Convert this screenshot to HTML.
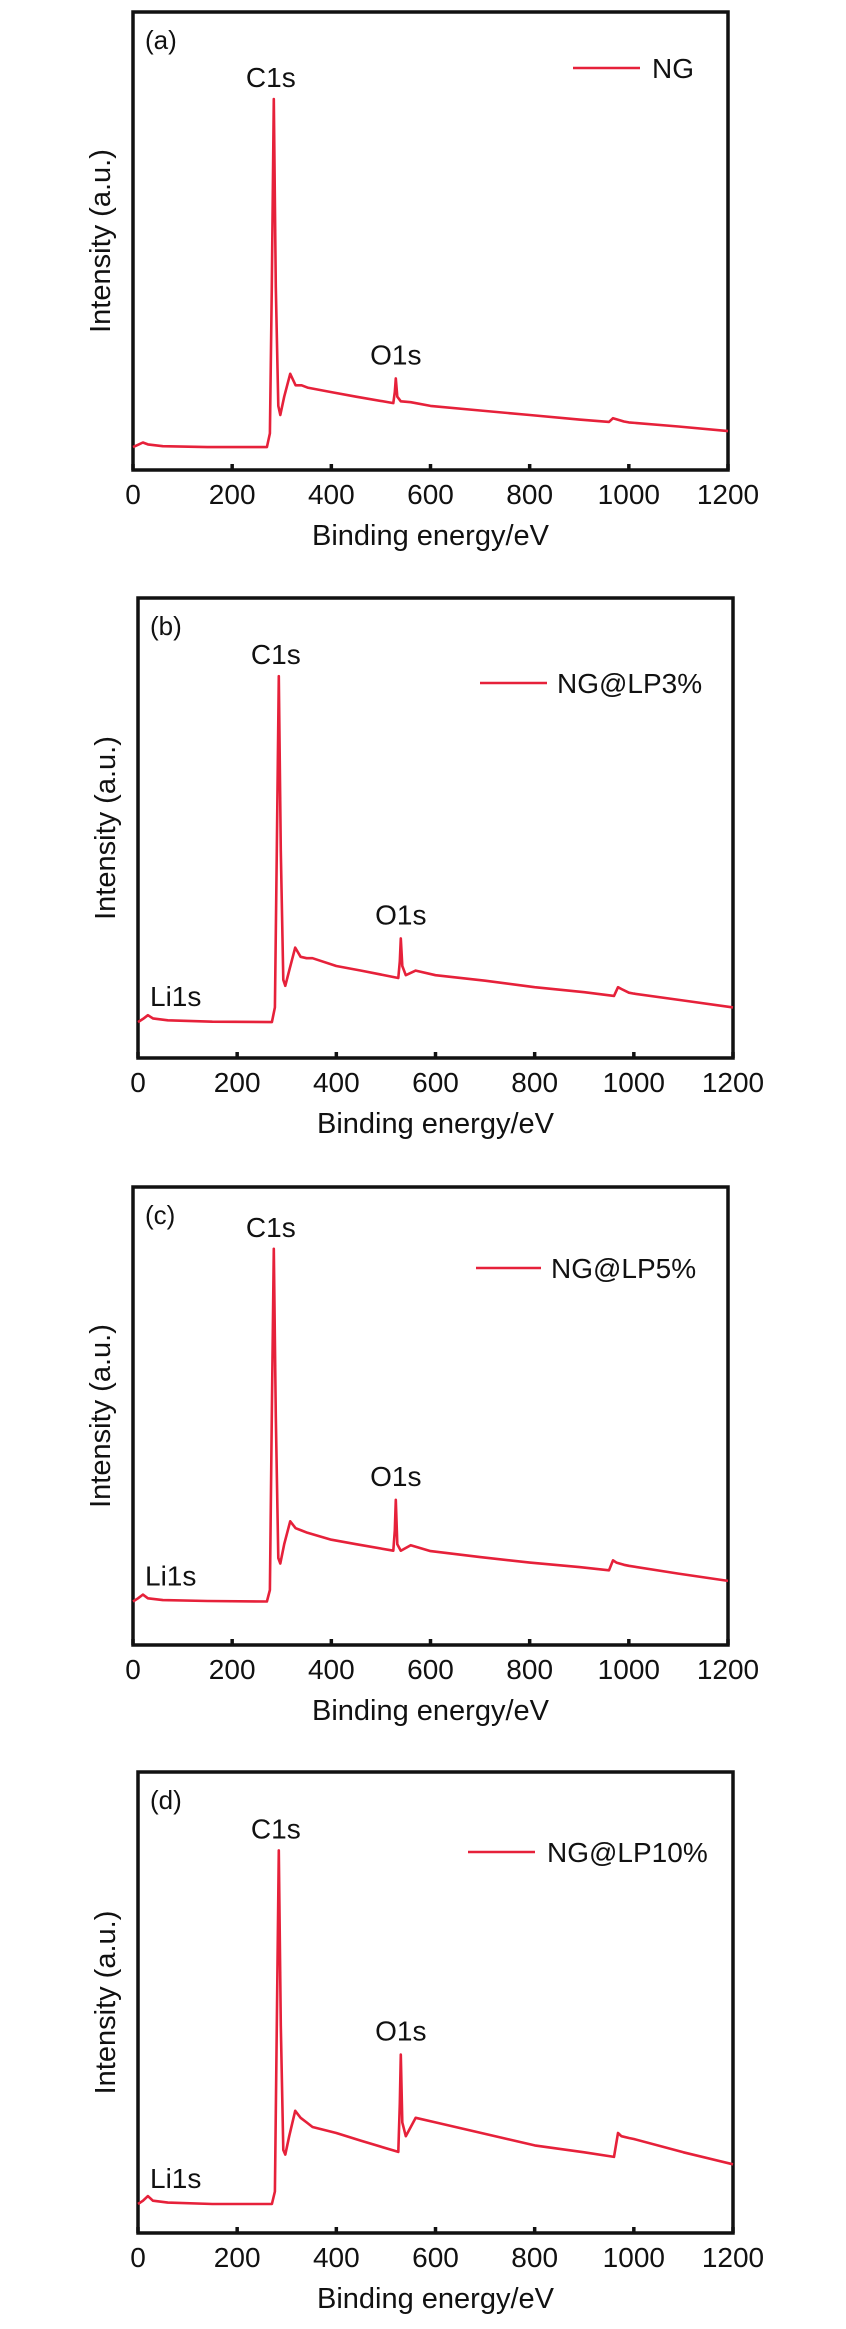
<!DOCTYPE html>
<html><head><meta charset="utf-8">
<style>
html,body{margin:0;padding:0;background:#fff;}
svg{display:block;}
text{font-family:"Liberation Sans",Arial,sans-serif;fill:#111;}
</style></head>
<body>
<svg id="chart" width="846" height="2329" viewBox="0 0 846 2329" xmlns="http://www.w3.org/2000/svg"></svg>
<script>
// Shared x data (binding energy, eV)
const energies = [0,10,20,30,60,150,270,276,280,284,288,293,297,305,317,328,340,352,400,450,525,528,530,533,540,560,600,700,800,900,960,968,975,990,1000,1100,1200];
// Intensity (% of plot height)
const seriesNG     = [5,5.5,6,5.6,5.2,5,5,8,40,81,40,14,12,16,21,18.5,18.5,18,17,16,14.6,17,20,16,15,14.8,14,13,12,11,10.5,11.3,11.1,10.6,10.4,9.5,8.5];
const seriesLP3    = [7.8,8.5,9.3,8.6,8.2,7.9,7.8,11,45,83,45,17,15.7,19,24,22,21.7,21.7,20,19,17.4,21,26,20,18,19,18,16.8,15.4,14.3,13.5,15.4,15,14.2,14,12.5,11];
const seriesLP5    = [9.5,10.2,11,10.2,9.8,9.6,9.5,12,50,86.5,50,19,17.8,22,27,25.5,25,24.5,23,22,20.6,25,31.7,22,20.6,21.8,20.5,19.2,18,17,16.3,18.5,18,17.5,17.3,15.6,14];
const seriesLP10   = [6.3,7,8,7,6.6,6.3,6.3,9,45,83,45,18,17,21,26.5,25,24,23,21.7,20,17.6,28,38.7,24,21,25,24,21.5,19,17.5,16.5,21.7,21,20.6,20.4,17.5,14.9];
const xTicks = [0,200,400,600,800,1000,1200];
const xTickLabels = ["0","200","400","600","800","1000","1200"];
const panelLetters = ["(a)","(b)","(c)","(d)"];
const legendLabels = ["NG","NG@LP3%","NG@LP5%","NG@LP10%"];

const panels = [
  {left:133, top:12,   h:458, data:seriesNG,   li:false, leg:[573,640,652], legY:56},
  {left:138, top:598,  h:460, data:seriesLP3,  li:true,  leg:[480,547,557], legY:85},
  {left:133, top:1187, h:458, data:seriesLP5,  li:true,  leg:[476,541,551], legY:81},
  {left:138, top:1772, h:461, data:seriesLP10, li:true,  leg:[468,535,547], legY:80}
];
const W = 595, RED = "#e6213a";
const svg = document.getElementById('chart');
const NS = "http://www.w3.org/2000/svg";
function mk(tag, attrs, parent){
  const e = document.createElementNS(NS, tag);
  for (const k in attrs) e.setAttribute(k, attrs[k]);
  parent.appendChild(e); return e;
}
function txt(str, attrs, parent){ const t = mk('text', attrs, parent); t.textContent = str; return t; }

panels.forEach((p, i) => {
  const g = mk('g', {}, svg);
  
  
  const xS = v => p.left + v / 1200 * W;
  const yS = v => p.top + p.h - v / 100 * p.h;
  const bottom = p.top + p.h;

  const fr = mk('rect', {x:p.left, y:p.top, width:W, height:p.h, fill:'none', stroke:'#111', 'stroke-width':3.5}, g);
  
  

  xTicks.forEach((t, k) => {
    const tk = mk('line', {x1:xS(t), x2:xS(t), y1:bottom, y2:bottom-6, stroke:'#111', 'stroke-width':3.5}, g);
    
    
    const tl = txt(xTickLabels[k], {x:xS(t), y:bottom+34, 'text-anchor':'middle', 'font-size':28}, g);
    
    
  });

  const xt = txt('Binding energy/eV', {x:p.left+W/2, y:bottom+75, 'text-anchor':'middle', 'font-size':29}, g);
  
  
  const cy = p.top + p.h/2;
  const yt = txt('Intensity (a.u.)', {x:0, y:0, 'text-anchor':'middle', 'font-size':29, transform:'translate(' + (p.left-23) + ',' + cy + ') rotate(-90)'}, g);
  
  

  const d = energies.map((e, k) => (k ? 'L' : 'M') + xS(e).toFixed(1) + ',' + yS(p.data[k]).toFixed(1)).join(' ');
  const path = mk('path', {d:d, fill:'none', stroke:RED, 'stroke-width':2.6, 'stroke-linejoin':'round'}, g);
  
  

  const pl = txt(panelLetters[i], {x:p.left+12, y:p.top+37, 'font-size':26}, g);
  
  

  const cIdx = p.data.indexOf(Math.max(...p.data));
  const c1 = txt('C1s', {x:xS(energies[cIdx])-3, y:yS(p.data[cIdx])-12, 'text-anchor':'middle', 'font-size':28}, g);
  
  
  let oIdx = 0;
  energies.forEach((e, k) => { if (e > 500 && e < 560 && p.data[k] > (oIdx ? p.data[oIdx] : -1)) oIdx = k; });
  const o1 = txt('O1s', {x:xS(energies[oIdx]), y:yS(p.data[oIdx])-14, 'text-anchor':'middle', 'font-size':28}, g);
  
  
  if (p.li) {
    const li = txt('Li1s', {x:p.left+12, y:yS(p.data[0])-16, 'font-size':28}, g);
    
    
  }

  const lg = mk('g', {}, g);
  
  
  mk('line', {x1:p.leg[0], x2:p.leg[1], y1:p.top+p.legY, y2:p.top+p.legY, stroke:RED, 'stroke-width':2.6}, lg);
  txt(legendLabels[i], {x:p.leg[2], y:p.top+p.legY+10, 'font-size':28}, lg);
});
</script>
</body></html>
